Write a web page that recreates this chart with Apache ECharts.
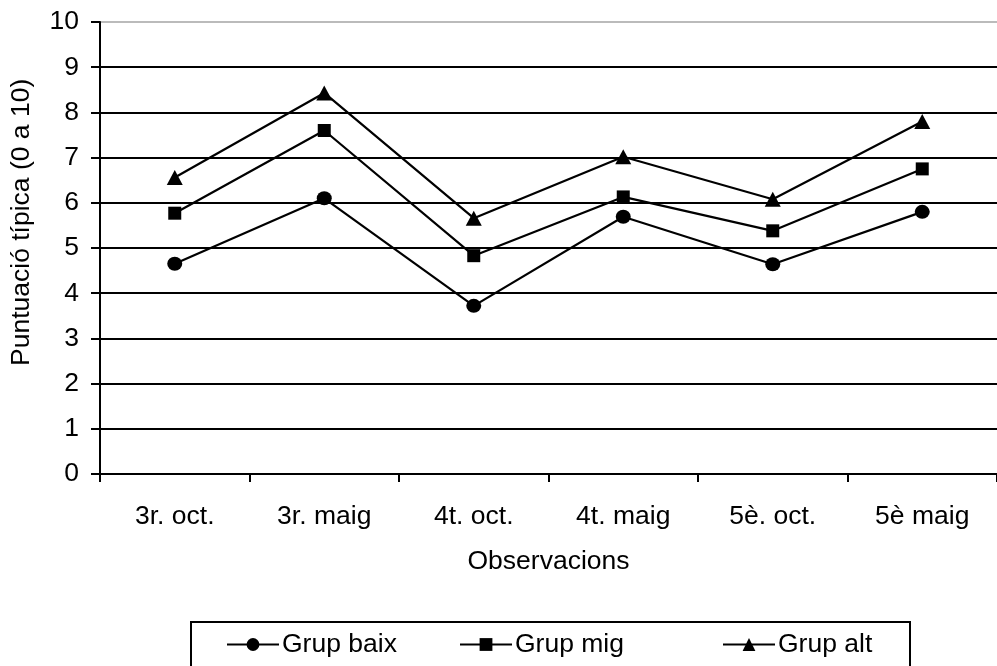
<!DOCTYPE html>
<html>
<head>
<meta charset="utf-8">
<script src="https://cdn.jsdelivr.net/npm/echarts@6/dist/echarts.min.js"></script>
<style>html,body{margin:0;padding:0;background:#fff;}#c{width:997px;height:666px;}</style>
</head>
<body>
<div id="c"></div>
<script>
const categories = ['3r. oct.', '3r. maig', '4t. oct.', '4t. maig', '5è. oct.', '5è maig'];
const grupBaix = [4.65, 6.10, 3.72, 5.69, 4.64, 5.80];
const grupMig  = [5.77, 7.60, 4.83, 6.13, 5.38, 6.75];
const grupAlt  = [6.56, 8.43, 5.66, 7.02, 6.08, 7.80];
const yTicks = [0, 10, 1]; // min, max, interval
const yAxisTitle = 'Puntuació típica (0 a 10)';
const xAxisTitle = 'Observacions';
const seriesNames = ['Grup baix', 'Grup mig', 'Grup alt'];

const FONT = 'Liberation Sans, Arial, sans-serif';
const FS = 26.5;
const chart = echarts.init(document.getElementById('c'), null, {renderer: 'canvas'});

function mkSeries(name, data, symbol, size) {
  return {
    name: name, type: 'line', data: data,
    symbol: symbol, symbolSize: size, showSymbol: true,
    lineStyle: {color: '#000', width: 2.2},
    itemStyle: {color: '#000', borderColor: '#000', borderWidth: 0},
    emphasis: {disabled: true},
    animation: false, z: 3
  };
}
function mkLegend(name, left) {
  return {
    data: [name], left: left, top: 631, padding: 0,
    itemWidth: 52, itemHeight: 16, itemGap: 0,
    textStyle: {fontFamily: FONT, fontSize: FS, color: '#000', padding: [0, 0, 0, -2]},
    selectedMode: false
  };
}

chart.setOption({
  backgroundColor: '#fff',
  animation: false,
  textStyle: {fontFamily: FONT},
  grid: {left: 100, top: 22, width: 900, height: 452, containLabel: false},
  xAxis: {
    type: 'category', data: categories, boundaryGap: true,
    name: xAxisTitle, nameLocation: 'middle', nameGap: 74,
    nameTextStyle: {fontFamily: FONT, fontSize: FS, color: '#000'},
    axisLine: {lineStyle: {color: '#000', width: 2}},
    axisTick: {show: true, length: 8, lineStyle: {color: '#000', width: 2}},
    axisLabel: {fontFamily: FONT, fontSize: FS, color: '#000', margin: 29},
    splitLine: {show: false}
  },
  yAxis: {
    type: 'value', min: yTicks[0], max: yTicks[1], interval: yTicks[2],
    axisLine: {show: true, lineStyle: {color: '#000', width: 2}},
    axisTick: {show: true, length: 9, lineStyle: {color: '#000', width: 2}},
    axisLabel: {fontFamily: FONT, fontSize: FS, color: '#000', margin: 21},
    splitLine: {show: true, showMinLine: false,
      lineStyle: {color: ['#000','#000','#000','#000','#000','#000','#000','#000','#000','#bbb'], width: 2}}
  },
  legend: [mkLegend(seriesNames[0], 226), mkLegend(seriesNames[1], 459), mkLegend(seriesNames[2], 722)],
  graphic: [
    {type: 'rect', shape: {x: 191, y: 622, width: 719, height: 70},
     style: {fill: 'none', stroke: '#000', lineWidth: 2}, silent: true},
    {type: 'text', x: 22, y: 366, rotation: Math.PI / 2,
     style: {text: yAxisTitle, font: FS + 'px ' + FONT, fill: '#000',
             textAlign: 'left', textVerticalAlign: 'middle'}, silent: true}
  ],
  series: [
    mkSeries(seriesNames[0], grupBaix, 'circle', [15, 14]),
    mkSeries(seriesNames[1], grupMig, 'rect', 13),
    mkSeries(seriesNames[2], grupAlt, 'triangle', [16, 15])
  ]
});
</script>
</body>
</html>
